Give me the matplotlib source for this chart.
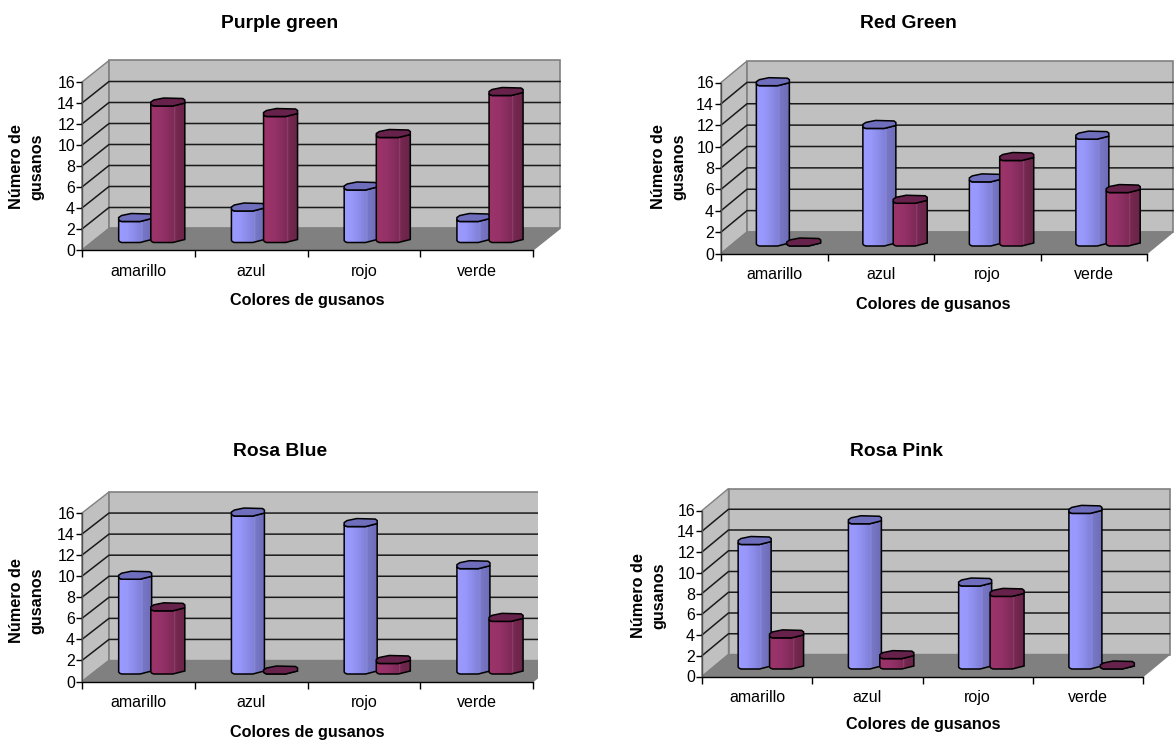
import numpy as np
import matplotlib
matplotlib.use('Agg')
import matplotlib.pyplot as plt
from matplotlib.patches import Polygon, Rectangle
from matplotlib.colors import to_rgb

plt.rcParams['font.family'] = ['Liberation Sans', 'DejaVu Sans']

W, H = 1174, 744

categories = ['amarillo', 'azul', 'rojo', 'verde']
titles = ['Purple green', 'Red Green', 'Rosa Blue', 'Rosa Pink']
y_ticks = [0, 2, 4, 6, 8, 10, 12, 14, 16]

purple_green_blue = [2, 3, 5, 2]
purple_green_red = [13, 12, 10, 14]
red_green_blue = [15, 11, 6, 10]
red_green_red = [0, 4, 8, 5]
rosa_blue_blue = [9, 15, 14, 10]
rosa_blue_red = [6, 0, 1, 5]
rosa_pink_blue = [12, 14, 8, 15]
rosa_pink_red = [3, 1, 7, 0]

blue_series = [purple_green_blue, red_green_blue, rosa_blue_blue, rosa_pink_blue]
red_series = [purple_green_red, red_green_red, rosa_blue_red, rosa_pink_red]

# panel geometry in pixels: front left, front right, front y of 0, front y of 16, depth x, depth y, wall crop
panels = [
    (82, 533, 250, 82, 27, 21.5, None),
    (721, 1147, 253.5, 82.5, 26, 21.5, None),
    (82, 533, 681.5, 513, 27, 21, 538),
    (702, 1143, 676.5, 510.5, 26.5, 22, None),
]
# text positions in pixels: title, y label, x label
title_pos = [(280, 23), (908, 23), (280, 452), (896, 452)]
ylabel_pos = [(27, 167), (669, 167), (27, 601), (649, 596)]
xlabel_pos = [(307, 300), (933, 305), (307, 732), (923, 725)]

# outline of the flattened cylinders, pixels from the left point of the front edge
front_px = np.array([(0, 0), (1, -1.2), (3, -2), (22, -2), (34, 1)], dtype=float)
back_px = np.array([(34, 4), (32, 5.5), (13, 6), (3, 4), (0, 2)], dtype=float)


def gradient(stops):
    pos = [s[0] for s in stops]
    rgb = np.array([to_rgb(s[1]) for s in stops])
    xs = np.linspace(0, 1, 120)
    return np.stack([np.interp(xs, pos, rgb[:, i]) for i in range(3)], axis=1)[None, :, :]


blue_grad = gradient([(0, '#9a9aff'), (0.25, '#9898fc'), (0.68, '#8080d8'), (0.7, '#9090d8'),
                      (0.72, '#7878c8'), (1, '#6c6cb8')])
red_grad = gradient([(0, '#9c3468'), (0.3, '#96326a'), (0.68, '#7e2a56'), (0.7, '#94507a'),
                     (0.72, '#762850'), (1, '#6a2448')])


def draw_bar(fig, ax, left, value, sx, sy, dx_px, dy_px, w_px, grad, cap_col):
    scale = np.array([w_px / 34 / sx, 1 / sy])
    front = front_px * scale
    back = back_px * scale
    base = np.array([left + dx_px / sx, dy_px / sy])
    top = base + np.array([0, value])
    body = np.vstack([top + front, base + front[::-1]])
    if value > 0:
        im = ax.imshow(grad, extent=(base[0], base[0] + w_px / sx, 0, 16), aspect='auto', zorder=5)
        shape = Polygon(body, closed=True, transform=ax.transData, fc='none', ec='none')
        ax.add_patch(shape)
        im.set_clip_box(fig.bbox)
        im.set_clip_path(shape)
        ax.add_patch(Polygon(body, closed=True, fc='none', ec='black', lw=1.1, zorder=5, clip_on=False))
    else:
        ax.add_patch(Polygon(base + front, closed=True, fc=cap_col, ec='black', lw=1.0, zorder=5, clip_on=False))
    ax.add_patch(Polygon(np.vstack([top + front, top + back]), closed=True, fc=cap_col, ec='black',
                         lw=1.1, zorder=5, clip_on=False))


fig = plt.figure(figsize=(W / 100, H / 100), dpi=100)

for p, (x0, x1, y0, y16, dx, dy, crop) in enumerate(panels):
    ax = fig.add_axes([x0 / W, 1 - y0 / H, (x1 - x0) / W, (y0 - y16) / H])
    ax.patch.set_alpha(0)
    sx = (x1 - x0) / 4
    sy = (y0 - y16) / 16
    ddx = dx / sx
    ddy = dy / sy
    right = (crop - x0) / sx if crop else 4 + ddx + 0.01

    clip = Rectangle((-1, -2), right + 1, 22, transform=ax.transData)
    walls = [
        Polygon([(0, 0), (ddx, ddy), (ddx, 16 + ddy), (0, 16)], fc='#c0c0c0', ec='#808080', lw=1.0, zorder=1),
        Polygon([(ddx, ddy), (4 + ddx, ddy), (4 + ddx, 16 + ddy), (ddx, 16 + ddy)], fc='#c0c0c0', ec='#808080', lw=1.2, zorder=1),
        Polygon([(0, 0), (ddx, ddy), (4 + ddx, ddy), (4, 0)], fc='#808080', ec='#808080', lw=1, zorder=1),
    ]
    for wall in walls:
        ax.add_patch(wall)
        wall.set_clip_path(clip)
    for t in y_ticks[1:-1]:
        grid_line, = ax.plot([0, ddx, 4 + ddx], [t, t + ddy, t + ddy], c='#1a1a1a', lw=1.1, zorder=2)
        grid_line.set_clip_path(clip)

    for i in range(len(categories)):
        draw_bar(fig, ax, i + 0.21, blue_series[p][i], sx, sy, 13, 9.5, 33, blue_grad, '#6e6ebc')
        draw_bar(fig, ax, i + 0.495, red_series[p][i], sx, sy, 13, 9.5, 34, red_grad, '#66224a')

    ax.set_xlim(0, 4)
    ax.set_ylim(0, 16)
    for side in ['top', 'right']:
        ax.spines[side].set_visible(False)
    for side in ['left', 'bottom']:
        ax.spines[side].set_linewidth(1.0)
        ax.spines[side].set_zorder(3)
    ax.spines['left'].set_color('#505050')
    ax.set_yticks(y_ticks)
    ax.set_xticks(range(5))
    ax.set_xticklabels([])
    ax.set_xticks(np.arange(4) + 0.5, labels=categories, minor=True)
    ax.tick_params(axis='x', which='major', length=5, width=1)
    ax.tick_params(axis='x', which='minor', length=0, labelsize=11.5, pad=10)
    ax.tick_params(axis='y', length=4, width=1, labelsize=11.5, pad=1)

    fig.text(title_pos[p][0] / W, 1 - title_pos[p][1] / H, titles[p], fontsize=13.9, fontweight='bold',
             ha='center', va='center')
    fig.text(ylabel_pos[p][0] / W, 1 - ylabel_pos[p][1] / H, 'Número de\ngusanos', fontsize=11.7,
             fontweight='bold', rotation=90, ha='center', va='center', multialignment='center', linespacing=1.45)
    fig.text(xlabel_pos[p][0] / W, 1 - xlabel_pos[p][1] / H, 'Colores de gusanos', fontsize=11.7,
             fontweight='bold', ha='center', va='center')

fig.savefig('out.png', dpi=100)
